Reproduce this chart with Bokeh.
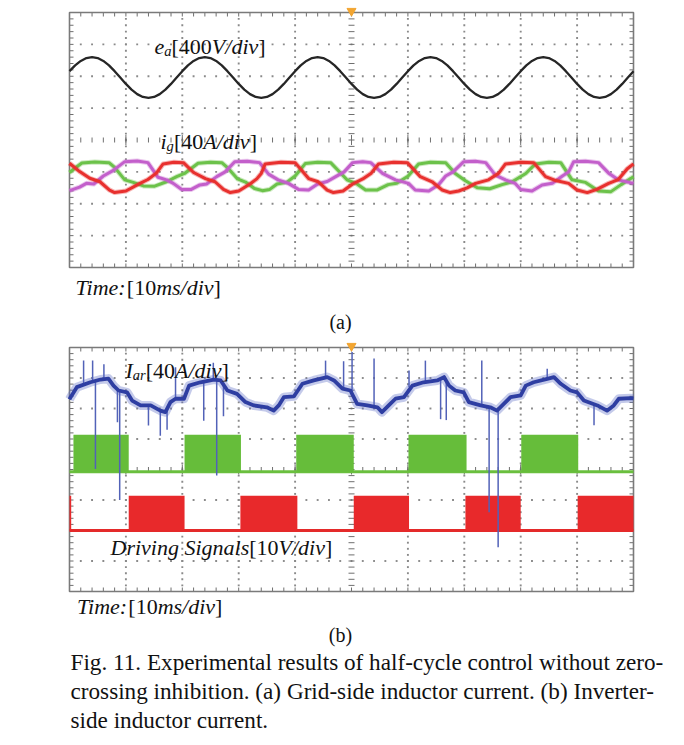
import numpy as np
from bokeh.plotting import figure
from bokeh.models import Range1d, Label
from bokeh.embed import file_html
from bokeh.resources import INLINE

# ------------------------------------------------------------------ data
# time in ms (10 ms/div, 10 divisions), trace levels in screen divisions
ea_t = list(range(0, 101))
ea_div = [
    2.16, 2.34, 2.48, 2.57, 2.60, 2.57, 2.48, 2.34, 2.16, 1.96, 1.76, 1.58, 1.44, 1.35, 1.32, 1.35, 1.44, 1.58, 1.76, 1.96,
    2.16, 2.34, 2.48, 2.57, 2.60, 2.57, 2.48, 2.34, 2.16, 1.96, 1.76, 1.58, 1.44, 1.35, 1.32, 1.35, 1.44, 1.58, 1.76, 1.96,
    2.16, 2.34, 2.48, 2.57, 2.60, 2.57, 2.48, 2.34, 2.16, 1.96, 1.76, 1.58, 1.44, 1.35, 1.32, 1.35, 1.44, 1.58, 1.76, 1.96,
    2.16, 2.34, 2.48, 2.57, 2.60, 2.57, 2.48, 2.34, 2.16, 1.96, 1.76, 1.58, 1.44, 1.35, 1.32, 1.35, 1.44, 1.58, 1.76, 1.96,
    2.16, 2.34, 2.48, 2.57, 2.60, 2.57, 2.48, 2.34, 2.16, 1.96, 1.76, 1.58, 1.44, 1.35, 1.32, 1.35, 1.44, 1.58, 1.76, 1.96,
    2.16]

ig_green_t = [0, 1.0, 2.2, 4.5, 7.0, 8.0, 9.8, 11.3, 13.1, 15.1, 17.2, 19.0, 20.4, 22.8, 25.0, 27.0, 28.2, 29.8,
              31.2, 32.8, 34.2, 35.5, 36.8, 38.5, 40.0, 41.8, 44.0, 46.3, 47.6, 49.2, 50.8, 52.5, 54.5, 56.5,
              58.0, 60.0, 61.9, 64.0, 66.7, 68.4, 70.2, 72.3, 74.5, 76.7, 78.5, 80.9, 82.6, 85.0, 87.1, 89.1,
              91.5, 93.8, 96.0, 97.8, 100.0]
ig_green = [-1.02, -0.88, -0.72, -0.69, -0.71, -0.86, -1.25, -1.33, -1.44, -1.45, -1.31, -1.15, -1.05, -0.73,
            -0.70, -0.71, -0.90, -1.22, -1.32, -1.52, -1.59, -1.55, -1.38, -1.33, -1.13, -0.74, -0.70, -0.71,
            -0.95, -1.25, -1.36, -1.57, -1.57, -1.40, -1.36, -1.14, -0.75, -0.70, -0.71, -1.05, -1.28, -1.50,
            -1.53, -1.40, -1.31, -1.05, -0.75, -0.70, -0.71, -1.25, -1.33, -1.60, -1.62, -1.40, -1.15]

ig_magenta_t = [0, 1.8, 3.0, 4.3, 6.0, 7.7, 9.8, 12.0, 13.9, 15.7, 17.2, 18.4, 19.9, 21.6, 23.1, 24.3, 26.1, 27.6,
                29.3, 31.5, 33.7, 35.3, 37.0, 38.8, 40.6, 42.4, 44.0, 45.7, 47.2, 48.7, 50.2, 52.0, 53.4, 55.5,
                57.8, 60.1, 61.3, 63.7, 65.4, 66.7, 68.0, 69.9, 72.0, 73.8, 75.5, 77.3, 79.0, 80.0, 82.0, 83.8,
                85.6, 87.4, 88.5, 89.4, 91.5, 93.8, 95.6, 97.3, 100.0]
ig_magenta = [-1.59, -1.48, -1.36, -1.38, -1.13, -0.96, -0.68, -0.66, -0.71, -1.17, -1.25, -1.36, -1.55, -1.55,
              -1.41, -1.38, -1.15, -1.00, -0.68, -0.67, -0.71, -1.07, -1.25, -1.36, -1.55, -1.57, -1.38, -1.30,
              -1.15, -1.00, -0.71, -0.68, -0.71, -1.05, -1.25, -1.36, -1.57, -1.60, -1.41, -1.13, -1.00, -0.68,
              -0.67, -0.71, -1.10, -1.25, -1.36, -1.55, -1.60, -1.41, -1.36, -1.13, -1.00, -0.68, -0.67, -0.71,
              -1.04, -1.25, -1.36]

ig_red_t = [0, 1.8, 3.6, 5.4, 7.1, 8.0, 10.0, 12.5, 13.9, 15.4, 16.6, 18.5, 20.2, 22.0, 24.1, 25.8, 27.3, 28.5,
            30.0, 32.0, 33.2, 34.0, 34.7, 37.5, 40.0, 42.4, 44.1, 45.7, 46.8, 48.5, 50.2, 52.0, 53.5, 54.8, 57.5,
            59.9, 62.2, 64.3, 66.1, 67.5, 69.0, 70.5, 72.0, 74.3, 76.1, 77.3, 80.0, 82.3, 84.4, 86.0, 88.5, 90.0,
            91.8, 93.5, 95.6, 97.3, 98.9, 100.0]
ig_red = [-0.73, -0.99, -1.20, -1.31, -1.57, -1.65, -1.60, -1.36, -1.24, -1.04, -0.75, -0.70, -0.71, -1.02,
          -1.21, -1.31, -1.55, -1.65, -1.60, -1.38, -1.22, -1.05, -0.75, -0.70, -0.71, -1.21, -1.31, -1.57,
          -1.65, -1.60, -1.38, -1.22, -1.04, -0.75, -0.70, -0.71, -1.15, -1.31, -1.57, -1.65, -1.60, -1.50,
          -1.36, -1.25, -1.04, -0.75, -0.70, -0.71, -1.15, -1.26, -1.36, -1.57, -1.65, -1.55, -1.36, -1.24,
          -0.90, -0.75]

iar_t = [0, 0.2, 1.3, 3.7, 5.5, 6.9, 7.8, 8.7, 10.2, 11.1, 12.6, 14.4, 16.1, 17.0, 17.9, 18.8, 20.3, 21.2, 23.2,
         25.6, 26.8, 28.0, 29.7, 31.2, 32.7, 35.0, 36.2, 37.1, 38.0, 39.8, 41.3, 43.3, 45.7, 46.9, 48.4, 49.8,
         51.0, 52.8, 54.6, 55.4, 56.6, 57.8, 59.3, 60.8, 62.8, 65.2, 66.4, 67.3, 68.4, 69.9, 70.8, 72.9, 74.6,
         75.8, 77.0, 78.2, 80.0, 80.9, 82.3, 84.7, 85.9, 87.1, 88.8, 90.0, 91.2, 93.6, 95.3, 96.5, 97.4, 99.5, 100.0]
iar_div = [2.30, 2.37, 2.70, 2.86, 2.95, 2.98, 2.75, 2.59, 2.53, 2.26, 2.10, 2.10, 1.93, 1.88, 2.21, 2.32, 2.32,
           2.75, 2.86, 2.95, 2.92, 2.59, 2.48, 2.21, 2.10, 2.04, 1.93, 2.10, 2.37, 2.40, 2.81, 2.92, 3.03, 2.92,
           2.65, 2.59, 2.15, 2.10, 2.04, 1.88, 2.10, 2.32, 2.37, 2.75, 2.86, 2.92, 3.03, 2.75, 2.59, 2.53, 2.21,
           2.10, 2.04, 1.93, 2.15, 2.37, 2.43, 2.75, 2.86, 2.97, 3.03, 2.81, 2.59, 2.53, 2.26, 2.10, 1.93, 2.10,
           2.32, 2.34, 2.33]

spike_t = [2.5, 4.1, 6.1, 18.8, 25.5, 45.4, 48.6, 50.1, 54.0, 60.2, 63.1, 73.1, 84.7,
           4.6, 8.5, 8.9, 14.0, 16.1, 17.3, 23.8, 26.1, 27.3, 65.8, 66.8, 74.4, 76.0, 93.0]
spike_from = [2.80, 2.85, 2.95, 2.30, 2.95, 3.00, 2.65, 2.50, 2.05, 2.70, 2.85, 2.10, 2.97,
              2.90, 2.60, 2.58, 2.10, 1.95, 2.00, 2.90, 2.95, 2.85, 2.95, 2.90, 2.05, 2.00, 2.15]
spike_to = [3.57, 3.57, 3.45, 3.35, 3.50, 3.57, 3.55, 3.85, 3.64, 3.25, 3.57, 3.57, 3.30,
            0.02, 1.55, -1.00, 1.44, 1.11, 1.30, 1.60, -0.20, 1.75, 1.65, 1.62, -1.40, -2.55, 1.45]

gate1_on = [0.7, 20.4, 40.2, 60.1, 80.1]
gate1_off = [10.5, 30.4, 50.4, 70.4, 90.2]
gate1_low, gate1_high = -0.07, 1.14
gate2_on = [0.0, 10.5, 30.3, 50.4, 70.2, 90.1]
gate2_off = [0.3, 20.4, 40.4, 60.2, 80.0, 100.0]
gate2_low, gate2_high = -2.00, -0.86

# ------------------------------------------------------------------ layout (reference pixels)
W, H = 684, 744
SX0, SX1 = 69, 633
A_TOP, A_BOT = 12, 267
B_TOP, B_BOT = 347, 591
kx = (SX1 - SX0) / 100.0
kya = (A_BOT - A_TOP) / 8.0
kyb = (B_BOT - B_TOP) / 8.0

x_range = Range1d(-SX0 / kx, 100 + (W - SX1) / kx)
ya = Range1d(4 - (H - A_TOP) / kya, 4 + A_TOP / kya)
yb = Range1d(4 - (H - B_TOP) / kyb, 4 + B_TOP / kyb)

p = figure(width=W, height=H, x_range=x_range, y_range=ya, output_backend="svg",
           toolbar_location=None, x_axis_location=None, y_axis_location=None,
           min_border=0, title=None, outline_line_color=None,
           background_fill_color="white", border_fill_color="white")
p.extra_y_ranges = {"b": yb}
p.xgrid.visible = False
p.ygrid.visible = False

GRID = "#8a8a8a"
TICK = "#6f6f6f"


def scope(rn, ky):
    kw = {} if rn == "default" else {"y_range_name": rn}
    minor_x = np.arange(0, 100.01, 2.0)
    minor_y = np.arange(-4, 4.01, 0.2)
    dx, dy = [], []
    for yy in (-3, -2, -1, 1, 2, 3):
        for xx in minor_x[1:-1]:
            dx.append(xx); dy.append(yy)
    for xx in (10, 20, 30, 40, 60, 70, 80, 90):
        for yy in minor_y[1:-1]:
            dx.append(xx); dy.append(yy)
    p.scatter(dx, dy, marker="square", size=1.9, color=GRID, line_color=None, **kw)
    tl = 2.5 / ky
    p.segment(x0=minor_x, y0=-tl, x1=minor_x, y1=tl, line_color=TICK, line_width=1, **kw)
    maj = np.arange(0, 100.01, 10.0)
    p.segment(x0=maj, y0=-2 * tl, x1=maj, y1=2 * tl, line_color=TICK, line_width=1, **kw)
    hl = 3.0 / kx
    p.segment(x0=50 - hl, y0=minor_y, x1=50 + hl, y1=minor_y, line_color=TICK, line_width=1, **kw)
    bl = 4.0 / ky
    p.segment(x0=minor_x, y0=4, x1=minor_x, y1=4 - bl, line_color=TICK, line_width=1, **kw)
    p.segment(x0=minor_x, y0=-4, x1=minor_x, y1=-4 + bl, line_color=TICK, line_width=1, **kw)
    bx = 4.0 / kx
    p.segment(x0=0, y0=minor_y, x1=bx, y1=minor_y, line_color=TICK, line_width=1, **kw)
    p.segment(x0=100, y0=minor_y, x1=100 - bx, y1=minor_y, line_color=TICK, line_width=1, **kw)
    p.quad(left=0, right=100, bottom=-4, top=4, fill_color=None, line_color="#7a7a7a", line_width=1.6, **kw)


scope("default", kya)
scope("b", kyb)

# ---------------- panel (a) traces
p.line(ea_t, ea_div, line_color="#262626", line_width=2.3)
for t_, v_, c_ in ((ig_green_t, ig_green, "#6cc24a"), (ig_magenta_t, ig_magenta, "#c35fcb"),
                   (ig_red_t, ig_red, "#e8302e")):
    p.line(t_, v_, line_color=c_, line_width=5, line_alpha=0.35, line_join="round")
    p.line(t_, v_, line_color=c_, line_width=3, line_join="round")

# ---------------- panel (b) traces
p.line([0, 100], [gate1_low, gate1_low], line_color="#6abf3e", line_width=3, y_range_name="b")
p.quad(left=gate1_on, right=gate1_off, bottom=gate1_low, top=gate1_high, fill_color="#66bd3a",
       line_color=None, y_range_name="b")
p.line([0, 100], [gate2_low, gate2_low], line_color="#e42a2a", line_width=3, y_range_name="b")
p.quad(left=gate2_on, right=gate2_off, bottom=gate2_low, top=gate2_high, fill_color="#e8292b",
       line_color=None, y_range_name="b")
p.segment(x0=spike_t, y0=spike_from, x1=spike_t, y1=spike_to, line_color="#5262b8", line_width=1.5,
          y_range_name="b")
p.line(iar_t, iar_div, line_color="#5666c2", line_width=9, line_alpha=0.35, line_join="round", y_range_name="b")
p.line(iar_t, iar_div, line_color="#2e3ea2", line_width=3.8, line_join="round", y_range_name="b")

# trigger markers
p.scatter([50], [4 + 1.5 / kya], marker="inverted_triangle", size=9, color="#f2a531")
p.scatter([50], [4 + 1.5 / kyb], marker="inverted_triangle", size=9, color="#f2a531", y_range_name="b")


# ---------------- texts (positions in reference pixels)
TEXT_DY = -6  # baseline correction


def X(rx):
    return (rx - SX0) / kx


def Y(ry):
    return 4 - (ry + TEXT_DY - A_TOP) / kya


FONT = "Liberation Serif"
# Times-compatible advance widths (1/1000 em)
W_REG = {"[": 333, "]": 333, "(": 333, ")": 333, " ": 250, "0": 500, "1": 500, "4": 500}
W_ITA = {"e": 444, "a": 500, "g": 500, "i": 278, "r": 389, "I": 333, "V": 611, "A": 611, "/": 278,
         "d": 500, "v": 444, "T": 556, "m": 722, "s": 389, ":": 333, "D": 722, "n": 500, "S": 500,
         "l": 278, " ": 250}


def label(s, rx, ry, size, italic=False, align="left"):
    p.add_layout(Label(x=X(rx), y=Y(ry), text=s, text_font=FONT, text_font_size=f"{size:.1f}px",
                       text_font_style="italic" if italic else "normal", text_color="#111111",
                       text_align=align, text_baseline="alphabetic"))


def chain(rx, ry, pieces, size=22):
    x = rx
    for s, ital, sub in pieces:
        fs = size * 0.66 if sub else size
        yy = ry + (size * 0.22 if sub else 0)
        label(s, x, yy, fs, ital)
        table = W_ITA if ital else W_REG
        x += sum(table.get(c, 500) for c in s) / 1000.0 * fs


chain(154, 52, [("e", True, False), ("a", True, True), ("[400", False, False), ("V/div", True, False),
                ("]", False, False)])
chain(160, 147, [("i", True, False), ("g", True, True), ("[40", False, False), ("A/div", True, False),
                 ("]", False, False)])
chain(75, 293, [("Time:", True, False), ("[10", False, False), ("ms/div", True, False), ("]", False, False)])
label("(a)", 340, 327, 20, align="center")

chain(125, 376, [("I", True, False), ("ar", True, True), ("[40", False, False), ("A/div", True, False),
                 ("]", False, False)])
chain(110, 553, [("Driving Signals", True, False), ("[10", False, False), ("V/div", True, False),
                 ("]", False, False)])
chain(76.5, 612, [("Time:", True, False), ("[10", False, False), ("ms/div", True, False), ("]", False, False)])
label("(b)", 340, 640, 20, align="center")

# caption
label("Fig. 11. Experimental results of half-cycle control without zero-", 70, 667, 23.2)
label("crossing inhibition. (a) Grid-side inductor current. (b) Inverter-", 70, 696, 23.2)
label("side inductor current.", 70, 725, 23.2)

open("out.html", "w").write(file_html(p, INLINE))
